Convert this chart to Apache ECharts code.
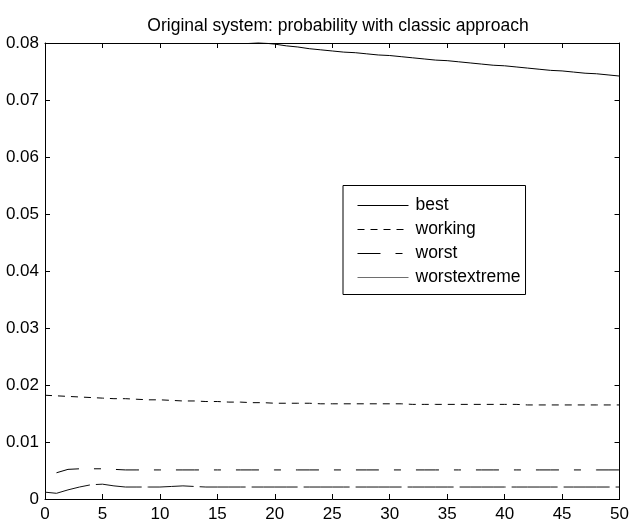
<!DOCTYPE html>
<html>
<head>
<meta charset="utf-8">
<script src="https://cdn.jsdelivr.net/npm/echarts@6/dist/echarts.min.js"></script>
<style>
  html, body { margin: 0; padding: 0; background: #fff; }
  #chart { width: 632px; height: 523px; }
</style>
</head>
<body>
<div id="chart"></div>
<script>
// Time steps on the x axis
const steps = [0,1,2,3,4,5,6,7,8,9,10,11,12,13,14,15,16,17,18,19,20,21,22,23,24,25,
  26,27,28,29,30,31,32,33,34,35,36,37,38,39,40,41,42,43,44,45,46,47,48,49,50];

// Probability per scenario
const best = [0.0838,0.0836,0.0834,0.0832,0.0830,0.0828,0.0826,0.0824,0.0822,0.0820,
  0.0818,0.0816,0.0814,0.0812,0.0810,0.0808,0.0806,0.0804,0.0802,0.0800,
  0.0798,0.0795,0.0793,0.0790,0.0788,0.0786,0.0784,0.0783,0.0781,0.0779,
  0.0778,0.0776,0.0774,0.0772,0.0770,0.0769,0.0767,0.0765,0.0763,0.0761,
  0.0760,0.0758,0.0756,0.0754,0.0752,0.0751,0.0749,0.0747,0.0746,0.0744,0.0742];
const working = [0.0182,0.0181,0.0180,0.0179,0.0178,0.0177,0.0176,0.0176,0.0175,0.0174,
  0.0174,0.0173,0.0172,0.0172,0.0171,0.0171,0.0170,0.0170,0.0169,0.0169,
  0.0168,0.0168,0.0168,0.0168,0.0167,0.0167,0.0167,0.0167,0.0167,0.0167,
  0.0167,0.0167,0.0166,0.0166,0.0166,0.0166,0.0166,0.0166,0.0166,0.0166,
  0.0166,0.0166,0.0165,0.0165,0.0165,0.0165,0.0165,0.0165,0.0165,0.0165,0.0165];
const worst = [null,0.0046,0.0052,0.0053,0.0053,0.0053,0.0052,0.0051,0.0051,0.0051,
  0.0051,0.0051,0.0051,0.0051,0.0051,0.0051,0.0051,0.0051,0.0051,0.0051,
  0.0051,0.0051,0.0051,0.0051,0.0051,0.0051,0.0051,0.0051,0.0051,0.0051,
  0.0051,0.0051,0.0051,0.0051,0.0051,0.0051,0.0051,0.0051,0.0051,0.0051,
  0.0051,0.0051,0.0051,0.0051,0.0051,0.0051,0.0051,0.0051,0.0051,0.0051,0.0051];
const worstextreme = [0.0012,0.0010,0.0016,0.0021,0.0025,0.0026,0.0023,0.0021,0.0021,0.0021,
  0.0021,0.0022,0.0023,0.0022,0.0021,0.0021,0.0021,0.0021,0.0021,0.0021,
  0.0021,0.0021,0.0021,0.0021,0.0021,0.0021,0.0021,0.0021,0.0021,0.0021,
  0.0021,0.0021,0.0021,0.0021,0.0021,0.0021,0.0021,0.0021,0.0021,0.0021,
  0.0021,0.0021,0.0021,0.0021,0.0021,0.0021,0.0021,0.0021,0.0021,0.0021,0.0021];

// Axis tick labels
const xTickLabels = ['0','5','10','15','20','25','30','35','40','45','50'];
const yTickLabels = ['0','0.01','0.02','0.03','0.04','0.05','0.06','0.07','0.08'];

const FONT = 'Liberation Sans, Arial, sans-serif';

const pairs = arr => steps.map((s, i) => [s, arr[i]]);

const frameX = (pos, showLabels) => ({
  type: 'value', position: pos, min: 0, max: 50, interval: 5,
  axisLine: { show: true, onZero: false, lineStyle: { color: '#000', width: 1 } },
  axisTick: { show: true, inside: true, length: 5, lineStyle: { color: '#000' } },
  axisLabel: {
    show: showLabels, color: '#000', fontSize: 17, fontFamily: FONT, margin: 7,
    formatter: v => xTickLabels[Math.round(v / 5)]
  },
  splitLine: { show: false }
});
const frameY = (pos, showLabels) => ({
  type: 'value', position: pos, min: 0, max: 0.08, interval: 0.01,
  axisLine: { show: true, onZero: false, lineStyle: { color: '#000', width: 1 } },
  axisTick: { show: true, inside: true, length: 5, lineStyle: { color: '#000' } },
  axisLabel: {
    show: showLabels, color: '#000', fontSize: 17, fontFamily: FONT, margin: 6,
    formatter: v => yTickLabels[Math.round(v / 0.01)]
  },
  splitLine: { show: false }
});

const lineSeries = (name, data, color, dash) => ({
  name, type: 'line', data: pairs(data), xAxisIndex: 0, yAxisIndex: 0,
  showSymbol: false, symbol: 'none', clip: true, silent: true, animation: false,
  connectNulls: false,
  itemStyle: { color },
  lineStyle: { color, width: 1, type: dash }
});

const chart = echarts.init(document.getElementById('chart'), null, { renderer: 'canvas' });
chart.setOption({
  backgroundColor: '#fff',
  animation: false,
  title: {
    text: 'Original system: probability with classic approach',
    left: 333, top: 12, textAlign: 'center',
    textStyle: { fontSize: 17.5, fontWeight: 'normal', color: '#000', fontFamily: FONT }
  },
  grid: { left: 45, right: 10, top: 43, bottom: 24, containLabel: false },
  xAxis: [frameX('bottom', true), frameX('top', false)],
  yAxis: [frameY('left', true), frameY('right', false)],
  legend: {
    orient: 'vertical', left: 343, top: 185.5,
    backgroundColor: '#fff', borderColor: '#000', borderWidth: 1,
    padding: [11, 5, 8, 14], itemGap: 6, itemWidth: 51, itemHeight: 14,
    itemStyle: { opacity: 0 },
    lineStyle: { width: 1 },
    textStyle: { fontSize: 17.5, lineHeight: 18, color: '#000', fontFamily: FONT, padding: [0, 0, 0, 2] },
    data: [
      { name: 'best' },
      { name: 'working' },
      { name: 'worst' },
      { name: 'worstextreme', lineStyle: { type: 'solid', color: '#6e6e6e', width: 1 } }
    ]
  },
  series: [
    lineSeries('best', best, '#000', 'solid'),
    lineSeries('working', working, '#000', [7, 6]),
    lineSeries('worst', worst, '#000', [23, 15, 7, 15]),
    lineSeries('worstextreme', worstextreme, '#111', [46, 6])
  ]
});
</script>
</body>
</html>
